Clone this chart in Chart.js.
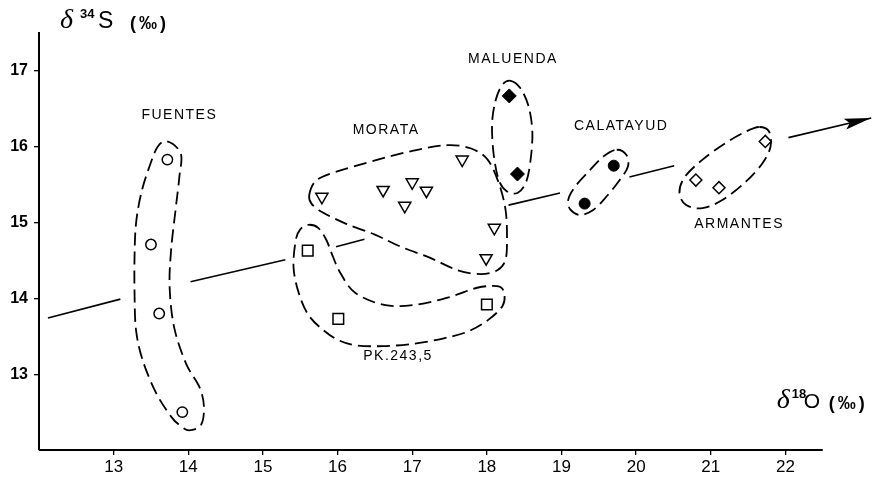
<!DOCTYPE html>
<html>
<head>
<meta charset="utf-8">
<script src="https://cdn.jsdelivr.net/npm/chart.js@4.4.0/dist/chart.umd.min.js"></script>
<style>
  html, body { margin: 0; padding: 0; background: #fff; }
  canvas { display: block; }
</style>
</head>
<body>
<canvas id="isoChart" width="884" height="479"></canvas>
<script>
// d18O (x) and d34S (y) per locality
const fuentesX = [13.72, 13.50, 13.61, 13.92];
const fuentesY = [15.83, 14.71, 13.80, 12.50];
const pkX = [15.60, 16.01, 18.00];
const pkY = [14.63, 13.73, 13.92];
const morataX = [15.79, 16.61, 17.00, 17.19, 16.90, 17.67, 18.10, 17.99];
const morataY = [15.34, 15.43, 15.53, 15.42, 15.22, 15.83, 14.93, 14.53];
const maluendaX = [18.30, 18.41];
const maluendaY = [16.67, 15.64];
const calatayudX = [19.70, 19.31];
const calatayudY = [15.75, 15.25];
const armantesX = [20.80, 21.11, 21.73];
const armantesY = [15.56, 15.46, 16.07];

// trend arrow, broken where it passes the envelopes (null = gap)
const trendX = [12.12, 13.09, 13.5, 14.03, 15.30, 15.6, 15.98, 16.36, 17.0, 18.29, 18.98, 19.5, 19.91, 20.51, 21.0, 22.04, 23.15];
const trendY = [13.74, 13.99, null, 14.22, 14.51, null, 14.68, 14.78, null, 15.23, 15.39, null, 15.60, 15.75, null, 16.12, 16.38];

// dashed envelopes round each group, [x, y]
const fuentesHull = [[13.72,16.07],[13.90,15.91],[13.88,15.60],[13.83,15.17],[13.77,14.64],[13.75,14.15],[13.81,13.62],[13.97,13.14],[14.15,12.83],[14.21,12.57],[14.17,12.33],[14.01,12.26],[13.88,12.33],[13.77,12.44],[13.57,12.75],[13.39,13.18],[13.30,13.58],[13.28,14.07],[13.28,14.55],[13.30,14.99],[13.37,15.39],[13.48,15.74],[13.59,16.00]];
const morataHull = [[15.62,15.36],[15.70,15.54],[15.92,15.65],[16.54,15.83],[17.07,15.96],[17.47,16.02],[17.78,15.98],[18.01,15.83],[18.16,15.52],[18.25,15.17],[18.27,14.81],[18.25,14.51],[18.14,14.37],[17.92,14.32],[17.61,14.37],[17.25,14.53],[16.85,14.68],[16.50,14.84],[16.10,14.99],[15.79,15.14],[15.65,15.25]];
const pkHull = [[15.61,14.97],[15.74,14.93],[15.85,14.77],[15.93,14.57],[16.04,14.33],[16.24,14.07],[16.64,13.91],[17.07,13.92],[17.51,14.02],[17.87,14.14],[18.14,14.16],[18.23,14.08],[18.21,13.90],[18.01,13.71],[17.74,13.56],[17.41,13.47],[17.01,13.40],[16.61,13.37],[16.25,13.38],[16.01,13.45],[15.81,13.58],[15.61,13.78],[15.48,14.07],[15.41,14.41],[15.44,14.77],[15.50,14.91]];
const maluendaHull = [[18.32,16.87],[18.45,16.77],[18.56,16.53],[18.61,16.18],[18.58,15.78],[18.52,15.52],[18.41,15.39],[18.27,15.41],[18.16,15.56],[18.09,15.91],[18.07,16.31],[18.12,16.62],[18.21,16.82]];
const calatayudHull = [[19.74,15.96],[19.87,15.89],[19.89,15.74],[19.78,15.56],[19.60,15.34],[19.43,15.17],[19.25,15.10],[19.12,15.17],[19.09,15.30],[19.18,15.47],[19.38,15.69],[19.56,15.87]];
const armantesHull = [[21.65,16.26],[21.78,16.20],[21.80,16.00],[21.69,15.78],[21.47,15.54],[21.16,15.30],[20.89,15.19],[20.67,15.23],[20.58,15.39],[20.65,15.60],[20.89,15.83],[21.20,16.05],[21.47,16.20]];

const groupNames = ['FUENTES', 'MORATA', 'MALUENDA', 'CALATAYUD', 'ARMANTES', 'PK.243,5'];
const groupLabelX = [13.88, 16.65, 18.35, 19.80, 21.38, 16.81];
const groupLabelY = [16.42, 16.22, 17.15, 16.27, 14.98, 13.24];

const xTicks = [13, 14, 15, 16, 17, 18, 19, 20, 21, 22];
const yTicks = [13, 14, 15, 16, 17];

const pairs = (xs, ys) => xs.map((x, i) => ({ x: x, y: ys[i] }));

function smoothClosed(ctx, pts) {
    const n = pts.length;
    ctx.beginPath();
    ctx.moveTo(pts[0][0], pts[0][1]);
    for (let i = 0; i < n; i++) {
        const p0 = pts[(i - 1 + n) % n], p1 = pts[i], p2 = pts[(i + 1) % n], p3 = pts[(i + 2) % n];
        ctx.bezierCurveTo(
            p1[0] + (p2[0] - p0[0]) / 6, p1[1] + (p2[1] - p0[1]) / 6,
            p2[0] - (p3[0] - p1[0]) / 6, p2[1] - (p3[1] - p1[1]) / 6,
            p2[0], p2[1]);
    }
    ctx.closePath();
    ctx.stroke();
}

// delta + superscript + element + (permil)
function isoTitle(ctx, x, y, sup, supDx, elem, elemDx, elemSize, unitDx) {
    ctx.font = 'italic 28px "Liberation Serif", serif';
    ctx.fillText('δ', x, y);
    ctx.font = 'bold 13px "Liberation Sans", Arial, sans-serif';
    ctx.fillText(sup, x + supDx, y - 10);
    ctx.font = elemSize + 'px "Liberation Sans", Arial, sans-serif';
    ctx.fillText(elem, x + elemDx, y);
    ctx.font = 'bold 18px "Liberation Sans", Arial, sans-serif';
    ctx.letterSpacing = '3px';
    ctx.fillText('(‰)', x + unitDx, y + 1);
    ctx.letterSpacing = '0px';
}

const decorations = {
    id: 'decorations',
    beforeDatasetsDraw(chart) {
        const ctx = chart.ctx, xs = chart.scales.x, ys = chart.scales.y;
        ctx.save();
        // x axis line stops at 22.5
        ctx.strokeStyle = '#000';
        ctx.lineWidth = 1.8;
        ctx.beginPath();
        ctx.moveTo(xs.getPixelForValue(12), ys.getPixelForValue(12));
        ctx.lineTo(xs.getPixelForValue(22.5), ys.getPixelForValue(12));
        ctx.stroke();
        // envelopes
        ctx.lineWidth = 1.8;
        ctx.setLineDash([13, 6]);
        [fuentesHull, morataHull, pkHull, maluendaHull, calatayudHull, armantesHull].forEach(h => {
            smoothClosed(ctx, h.map(p => [xs.getPixelForValue(p[0]), ys.getPixelForValue(p[1])]));
        });
        ctx.restore();
    },
    afterDatasetsDraw(chart) {
        const ctx = chart.ctx, xs = chart.scales.x, ys = chart.scales.y;
        ctx.save();
        // arrow head at end of trend
        const n = trendX.length;
        const x1 = xs.getPixelForValue(trendX[n - 2]), y1 = ys.getPixelForValue(trendY[n - 2]);
        const x2 = xs.getPixelForValue(trendX[n - 1]), y2 = ys.getPixelForValue(trendY[n - 1]);
        const a = Math.atan2(y2 - y1, x2 - x1);
        ctx.translate(x2, y2);
        ctx.rotate(a);
        ctx.fillStyle = '#000';
        ctx.beginPath();
        ctx.moveTo(0, 0);
        ctx.lineTo(-27, -5.5);
        ctx.lineTo(-22, 0);
        ctx.lineTo(-27, 5.5);
        ctx.closePath();
        ctx.fill();
        ctx.restore();

        // group names
        ctx.save();
        ctx.fillStyle = '#000';
        ctx.font = '14px "Liberation Sans", Arial, sans-serif';
        ctx.letterSpacing = '1.5px';
        ctx.textAlign = 'center';
        ctx.textBaseline = 'middle';
        groupNames.forEach((t, i) => {
            ctx.fillText(t, xs.getPixelForValue(groupLabelX[i]), ys.getPixelForValue(groupLabelY[i]));
        });
        ctx.restore();
    },
    afterDraw(chart) {
        const ctx = chart.ctx, xs = chart.scales.x, ys = chart.scales.y, area = chart.chartArea;
        ctx.save();
        ctx.fillStyle = '#000';
        ctx.textBaseline = 'alphabetic';
        isoTitle(ctx, area.left + 21, area.top - 5, '34', 20, 'S', 38, 23, 70);
        isoTitle(ctx, xs.getPixelForValue(21.87) + 1, ys.getPixelForValue(12.56), '18', 15, 'O', 27, 21, 52);
        ctx.restore();
    }
};

const openStyle = { borderColor: '#000', backgroundColor: '#fff', borderWidth: 1.5, showLine: false };
const solidStyle = { borderColor: '#000', backgroundColor: '#000', borderWidth: 1, showLine: false };

new Chart(document.getElementById('isoChart').getContext('2d'), {
    type: 'scatter',
    data: {
        datasets: [
            Object.assign({ label: 'Fuentes', data: pairs(fuentesX, fuentesY), pointStyle: 'circle', pointRadius: 5.2 }, openStyle),
            Object.assign({ label: 'PK.243,5', data: pairs(pkX, pkY), pointStyle: 'rect', pointRadius: 7.5 }, openStyle),
            Object.assign({ label: 'Morata', data: pairs(morataX, morataY), pointStyle: 'triangle', pointRotation: 180, pointRadius: 7 }, openStyle),
            Object.assign({ label: 'Maluenda', data: pairs(maluendaX, maluendaY), pointStyle: 'rectRot', pointRadius: 7 }, solidStyle),
            Object.assign({ label: 'Calatayud', data: pairs(calatayudX, calatayudY), pointStyle: 'circle', pointRadius: 5.5 }, solidStyle),
            Object.assign({ label: 'Armantes', data: pairs(armantesX, armantesY), pointStyle: 'rectRot', pointRadius: 6 }, openStyle),
            {
                label: 'trend',
                data: pairs(trendX, trendY),
                showLine: true,
                spanGaps: false,
                pointRadius: 0,
                borderColor: '#000',
                borderWidth: 1.6,
                order: 1
            }
        ]
    },
    options: {
        responsive: false,
        animation: false,
        layout: { padding: { top: 33, right: 4, left: 0, bottom: 0 } },
        plugins: {
            legend: { display: false },
            tooltip: { enabled: false }
        },
        scales: {
            x: {
                type: 'linear',
                min: 12,
                max: 23.2,
                afterFit: s => { s.height = 29; },
                afterBuildTicks: s => { s.ticks = xTicks.map(v => ({ value: v })); },
                border: { display: false },
                grid: { drawOnChartArea: false, drawTicks: true, tickLength: 5, color: '#000', lineWidth: 1.3 },
                ticks: {
                    color: '#000',
                    padding: 2,
                    maxRotation: 0,
                    font: { family: '"Liberation Sans", Arial, sans-serif', size: 17 }
                }
            },
            y: {
                type: 'linear',
                min: 12,
                max: 17.5,
                afterFit: s => { s.width = 39; },
                afterBuildTicks: s => { s.ticks = yTicks.map(v => ({ value: v })); },
                border: { display: true, color: '#000', width: 2 },
                grid: { drawOnChartArea: false, drawTicks: true, tickLength: 5, color: '#000', lineWidth: 1.3 },
                ticks: {
                    color: '#000',
                    padding: 6,
                    font: { family: '"Liberation Sans", Arial, sans-serif', size: 16, weight: 'bold' }
                }
            }
        }
    },
    plugins: [decorations]
});
</script>
</body>
</html>
